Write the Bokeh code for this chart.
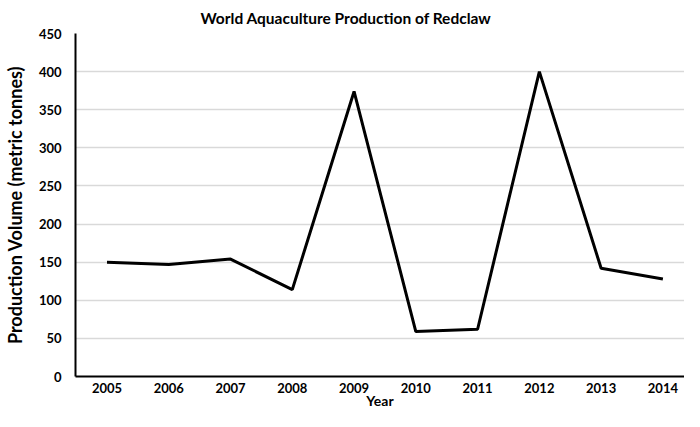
from bokeh.plotting import figure
from bokeh.models import Range1d, FixedTicker
from bokeh.embed import file_html
from bokeh.resources import INLINE

years = [2005, 2006, 2007, 2008, 2009, 2010, 2011, 2012, 2013, 2014]
volume = [150, 147, 154, 114, 374, 59, 62, 400, 142, 128]
y_ticks = [0, 50, 100, 150, 200, 250, 300, 350, 400, 450]

FONT = "Lato"

p = figure(width=684, height=411, output_backend="svg", toolbar_location=None,
           x_range=Range1d(2004.49, 2014.35), y_range=Range1d(0, 450),
           min_border_left=66, min_border_right=0, min_border_top=27, min_border_bottom=35)

p.line(years, volume, line_color="black", line_width=3)

p.title.text = "World Aquaculture Production of Redclaw"
p.title.align = "left"
p.title.offset = 125
p.title.text_font = FONT
p.title.text_font_size = "15.5px"
p.title.text_font_style = "bold"
p.title.text_color = "black"
p.title.standoff = 13

p.outline_line_color = None

p.xaxis.ticker = FixedTicker(ticks=years)
p.yaxis.ticker = FixedTicker(ticks=y_ticks)
p.xaxis.axis_label = "Year"
p.yaxis.axis_label = "Production Volume (metric tonnes)"
for ax in (p.xaxis[0], p.yaxis[0]):
    ax.axis_line_color = "black"
    ax.axis_line_width = 2
    ax.major_tick_line_color = None
    ax.minor_tick_line_color = None
    ax.major_tick_out = 0
    ax.major_tick_in = 0
    ax.minor_tick_out = 0
    ax.minor_tick_in = 0
    ax.major_label_text_font = FONT
    ax.major_label_text_font_style = "bold"
    ax.major_label_text_font_size = "13px"
    ax.major_label_text_color = "black"
    ax.axis_label_text_font = FONT
    ax.axis_label_text_font_style = "bold"
    ax.axis_label_text_color = "black"
p.xaxis.axis_label_text_font_size = "14px"
p.yaxis.axis_label_text_font_size = "18px"
p.xaxis.major_label_standoff = 6
p.yaxis.major_label_standoff = 14
p.xaxis.axis_label_standoff = -4
p.yaxis.axis_label_standoff = 10

p.xgrid.grid_line_color = None
p.ygrid.grid_line_color = "#d9d9d9"
p.ygrid.grid_line_width = 1.5

open("out.html", "w").write(file_html(p, INLINE))
